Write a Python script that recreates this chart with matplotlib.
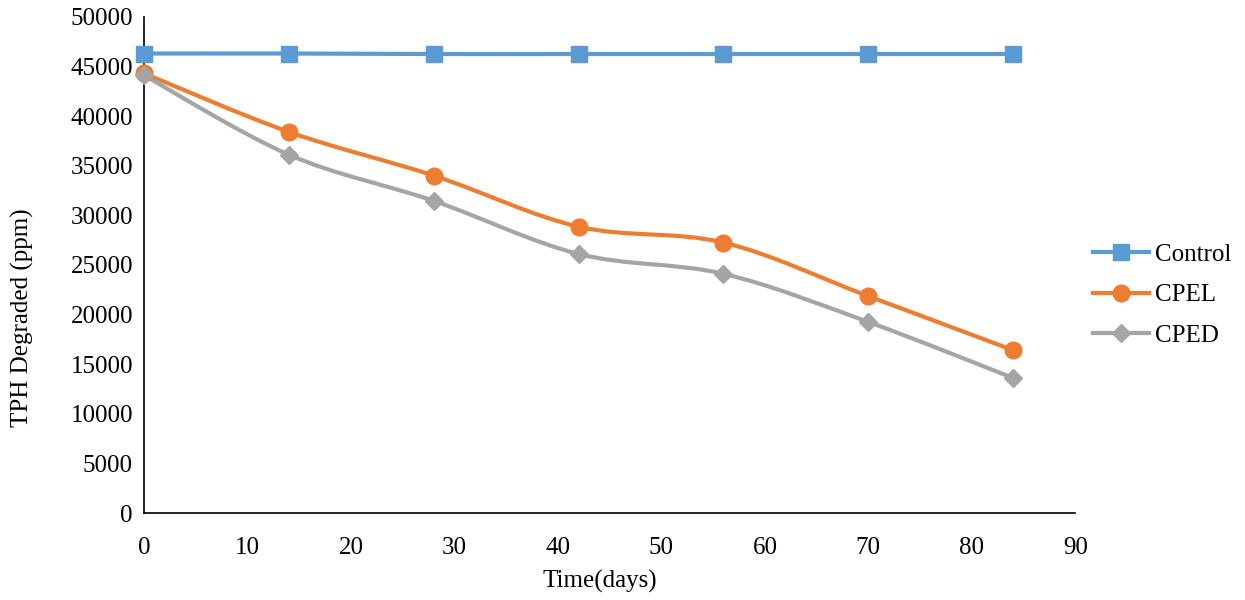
import matplotlib.pyplot as plt
from matplotlib.path import Path
from matplotlib.patches import PathPatch
from matplotlib.lines import Line2D

# Data
days = [0, 14, 28, 42, 56, 70, 84]
control = [46300, 46300, 46250, 46250, 46250, 46250, 46250]
cpel = [44300, 38400, 34000, 28850, 27250, 21850, 16400]
cped = [44100, 36100, 31450, 26100, 24100, 19250, 13600]

plt.rcParams['font.family'] = ['Liberation Serif', 'DejaVu Serif']

fig = plt.figure(figsize=(12.45, 6), dpi=100)
ax = fig.add_axes([0.1157, 0.145, 0.748, 0.827])


def smooth_path(x, y):
    # Excel-style smoothed line: Catmull-Rom turned into cubic Bezier segments
    n = len(x)
    verts = [(x[0], y[0])]
    codes = [Path.MOVETO]
    for i in range(n - 1):
        x0, y0 = (x[i - 1], y[i - 1]) if i > 0 else (x[i], y[i])
        x3, y3 = (x[i + 2], y[i + 2]) if i + 2 < n else (x[i + 1], y[i + 1])
        c1 = (x[i] + (x[i + 1] - x0) / 6, y[i] + (y[i + 1] - y0) / 6)
        c2 = (x[i + 1] - (x3 - x[i]) / 6, y[i + 1] - (y3 - y[i]) / 6)
        verts += [c1, c2, (x[i + 1], y[i + 1])]
        codes += [Path.CURVE4] * 3
    return Path(verts, codes)


series = [
    ('Control', control, '#5B9BD5', 's', 11),
    ('CPEL', cpel, '#ED7D31', 'o', 12),
    ('CPED', cped, '#A5A5A5', 'D', 9),
]

handles = []
for name, vals, col, mk, ms in series:
    ax.add_patch(PathPatch(smooth_path(days, vals), facecolor='none',
                           edgecolor=col, lw=3, capstyle='round', zorder=2))
    ax.plot(days, vals, linestyle='none', marker=mk, markersize=ms,
            color=col, zorder=3, clip_on=False)
    handles.append(Line2D([], [], color=col, lw=3, marker=mk, markersize=ms,
                          label=name))

ax.set_xlim(0, 90)
ax.set_ylim(0, 50000)
ax.set_xticks(range(0, 91, 10))
ax.set_yticks(range(0, 50001, 5000))
ax.tick_params(length=0, labelsize=18)
ax.tick_params(axis='x', pad=17)
ax.tick_params(axis='y', pad=8)
for s in ['top', 'right']:
    ax.spines[s].set_visible(False)
for s in ['left', 'bottom']:
    ax.spines[s].set_linewidth(1.2)

# axis titles sit off-centre in the original
fig.text(600 / 1245, 1 - 581 / 600, 'Time(days)', fontsize=18,
         ha='center', va='center')
fig.text(22 / 1245, 1 - 318 / 600, 'TPH Degraded (ppm)', fontsize=18,
         rotation=90, ha='center', va='center')

fig.legend(handles=handles, loc='center left', bbox_to_anchor=(0.8595, 0.508),
           frameon=False, fontsize=18, handlelength=2.25, labelspacing=0.72,
           handletextpad=0.25)

fig.savefig('out.png', dpi=100)
